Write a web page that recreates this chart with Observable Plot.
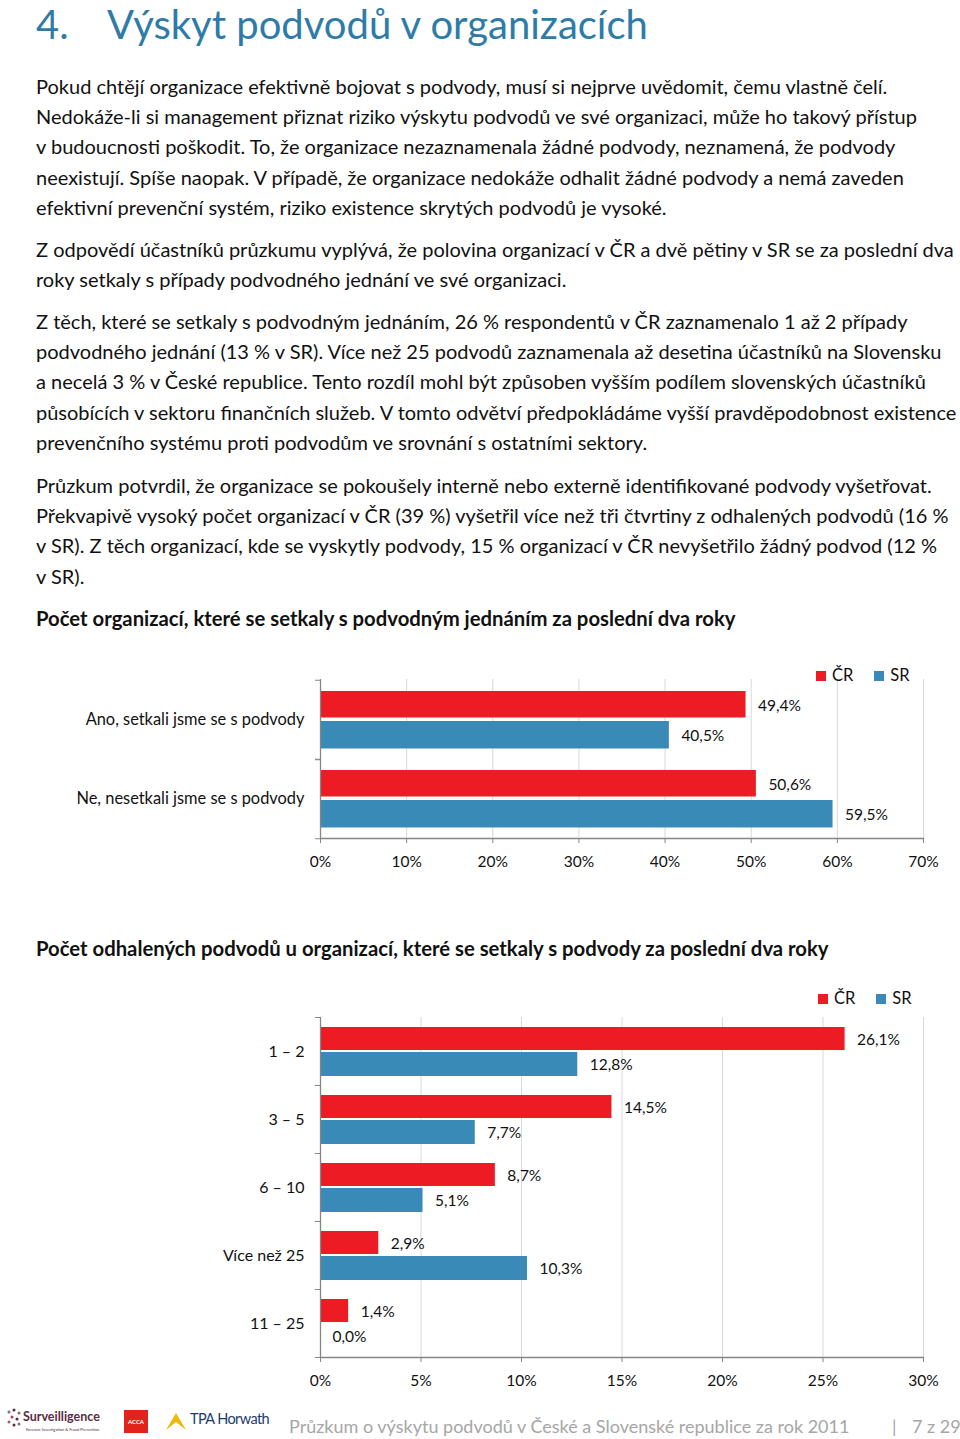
<!DOCTYPE html>
<html lang="cs">
<head>
<meta charset="utf-8">
<script src="https://cdn.jsdelivr.net/npm/d3@7"></script>
<script src="https://cdn.jsdelivr.net/npm/@observablehq/plot@0.6"></script>
<style>
  html, body { margin: 0; padding: 0; background: #fff; }
  body { width: 960px; height: 1439px; position: relative; overflow: hidden; font-family: Lato, "Open Sans", sans-serif; color: #111; }
  .abs { position: absolute; }
  h1 { position: absolute; left: 36px; top: 0px; margin: 0; font-weight: 400; font-size: 40px; line-height: 48px; color: #2E7BA8; white-space: nowrap; }
  h1 .num { display: inline-block; width: 71px; }
  .para { position: absolute; left: 36px; font-size: 20px; line-height: 30.2px; }
  .para div { white-space: nowrap; }
  .ctitle { position: absolute; left: 36px; font-size: 20.3px; font-weight: 700; white-space: nowrap; line-height: 30px; }
  .legend { position: absolute; font-size: 16.5px; white-space: nowrap; line-height: 20px; }
  .legend span.sw { display: inline-block; width: 10px; height: 10px; margin-right: 6px; vertical-align: 0px; }
  .legend span.item { margin-right: 21px; }
  .footer { position: absolute; top: 1412px; font-size: 18px; color: #A6A6A6; white-space: nowrap; line-height: 28px; }
</style>
</head>
<body>
<h1><span class="num">4.</span>Výskyt podvodů v organizacích</h1>

<div class="para" style="top:71px">
  <div>Pokud chtějí organizace efektivně bojovat s podvody, musí si nejprve uvědomit, čemu vlastně čelí.</div>
  <div>Nedokáže-li si management přiznat riziko výskytu podvodů ve své organizaci, může ho takový přístup</div>
  <div>v budoucnosti poškodit. To, že organizace nezaznamenala žádné podvody, neznamená, že podvody</div>
  <div>neexistují. Spíše naopak. V případě, že organizace nedokáže odhalit žádné podvody a nemá zaveden</div>
  <div>efektivní prevenční systém, riziko existence skrytých podvodů je vysoké.</div>
</div>
<div class="para" style="top:234px">
  <div>Z odpovědí účastníků průzkumu vyplývá, že polovina organizací v ČR a dvě pětiny v SR se za poslední dva</div>
  <div>roky setkaly s případy podvodného jednání ve své organizaci.</div>
</div>
<div class="para" style="top:306px">
  <div>Z těch, které se setkaly s podvodným jednáním, 26 % respondentů v ČR zaznamenalo 1 až 2 případy</div>
  <div>podvodného jednání (13 % v SR). Více než 25 podvodů zaznamenala až desetina účastníků na Slovensku</div>
  <div>a necelá 3 % v České republice. Tento rozdíl mohl být způsoben vyšším podílem slovenských účastníků</div>
  <div>působících v sektoru finančních služeb. V tomto odvětví předpokládáme vyšší pravděpodobnost existence</div>
  <div>prevenčního systému proti podvodům ve srovnání s ostatními sektory.</div>
</div>
<div class="para" style="top:470px">
  <div>Průzkum potvrdil, že organizace se pokoušely interně nebo externě identifikované podvody vyšetřovat.</div>
  <div>Překvapivě vysoký počet organizací v ČR (39 %) vyšetřil více než tři čtvrtiny z odhalených podvodů (16 %</div>
  <div>v SR). Z těch organizací, kde se vyskytly podvody, 15 % organizací v ČR nevyšetřilo žádný podvod (12 %</div>
  <div>v SR).</div>
</div>

<div class="ctitle" style="top:603px">Počet organizací, které se setkaly s podvodným jednáním za poslední dva roky</div>
<div id="chart1" class="abs" style="left:0; top:640px;"></div>
<div id="legend1" class="legend" style="left:816px; top:665px;"></div>

<div class="ctitle" style="top:933px">Počet odhalených podvodů u organizací, které se setkaly s podvody za poslední dva roky</div>
<div id="chart2" class="abs" style="left:0; top:980px;"></div>
<div id="legend2" class="legend" style="left:818px; top:988px;"></div>

<!-- footer logos -->
<div class="abs" style="left:6px; top:1408px; width:110px; height:28px;">
  <svg width="16" height="22" style="position:absolute;left:0;top:0">
    <circle cx="3" cy="4" r="1.5" fill="#8a6a7a"/><circle cx="8" cy="2" r="1.5" fill="#5b2b44"/><circle cx="13" cy="5" r="1.5" fill="#8a6a7a"/>
    <circle cx="6" cy="9" r="1.5" fill="#b04050"/><circle cx="11" cy="11" r="1.5" fill="#5b2b44"/><circle cx="3" cy="14" r="1.5" fill="#8a6a7a"/>
    <circle cx="8" cy="17" r="1.5" fill="#5b2b44"/><circle cx="13" cy="16" r="1.5" fill="#8a6a7a"/>
  </svg>
  <div style="position:absolute;left:17px;top:1px;font-size:12.5px;font-weight:700;color:#5b2b44;white-space:nowrap;">Surveilligence</div>
  <div style="position:absolute;left:20px;top:19px;font-size:4px;color:#5b2b44;white-space:nowrap;">Forensic Investigation &amp; Fraud Prevention</div>
</div>
<div class="abs" style="left:124px; top:1410px; width:24px; height:23px; background:#E2231A; color:#fff; font-size:6px; font-weight:700; line-height:23px; text-align:center;">ACCA</div>
<svg class="abs" style="left:164px; top:1411px;" width="24" height="20">
  <path d="M2 19 L12 2 L22 19 L12 11 Z" fill="#F2B705"/>
</svg>
<div class="abs" style="left:190px; top:1410px; font-size:14.5px; color:#1B3C6B; letter-spacing:-0.6px; white-space:nowrap;">TPA Horwath</div>

<div class="footer" style="left:289px;">Průzkum o výskytu podvodů v České a Slovenské republice za rok 2011</div>
<div class="footer" style="left:892px;">|</div>
<div class="footer" style="left:912px;">7 z 29</div>

<script>
// ---------- data ----------
const series = ["ČR", "SR"];
const seriesColors = ["#ED1C24", "#3A8AB8"];

const chart1Categories = ["Ano, setkali jsme se s podvody", "Ne, nesetkali jsme se s podvody"];
const chart1CR = [49.4, 50.6];
const chart1SR = [40.5, 59.5];
const chart1Ticks = [0, 10, 20, 30, 40, 50, 60, 70];

const chart2Categories = ["1 – 2", "3 – 5", "6 – 10", "Více než 25", "11 – 25"];
const chart2CR = [26.1, 14.5, 8.7, 2.9, 1.4];
const chart2SR = [12.8, 7.7, 5.1, 10.3, 0.0];
const chart2Ticks = [0, 5, 10, 15, 20, 25, 30];

// ---------- helpers ----------
const fmt = v => v.toFixed(1).replace(".", ",") + "%";
const axisColor = "#868686";
const gridColor = "#D9D9D9";

function buildRows(cats, cr, sr) {
  const rows = [];
  cats.forEach((c, i) => {
    rows.push({cat: c, series: series[0], value: cr[i]});
    rows.push({cat: c, series: series[1], value: sr[i]});
  });
  return rows;
}

function makeChart({cats, cr, sr, ticks, marginTop, frameHeight, marginBottom, crInset, srInset, crDy, srDy, catFontSize}) {
  const rows = buildRows(cats, cr, sr);
  const band = frameHeight / cats.length;
  const height = marginTop + frameHeight + marginBottom;
  const crRows = rows.filter(d => d.series === series[0]);
  const srRows = rows.filter(d => d.series === series[1]);
  return Plot.plot({
    width: 960,
    height,
    marginLeft: 320,
    marginRight: 37,
    marginTop,
    marginBottom,
    style: {fontFamily: "Lato, sans-serif", fontSize: "15.5px", color: "#111", background: "transparent"},
    x: {domain: [ticks[0], ticks[ticks.length - 1]], label: null},
    y: {domain: cats, padding: 0, label: null},
    color: {domain: series, range: seriesColors},
    marks: [
      Plot.ruleX(ticks.filter(t => t > 0), {stroke: gridColor, strokeWidth: 1}),
      Plot.barX(crRows, {x: "value", y: "cat", fill: "series", insetTop: crInset[0], insetBottom: crInset[1]}),
      Plot.barX(srRows, {x: "value", y: "cat", fill: "series", insetTop: srInset[0], insetBottom: srInset[1]}),
      Plot.ruleX([0], {stroke: axisColor, strokeWidth: 1.3}),
      Plot.frame({anchor: "bottom", stroke: axisColor, strokeWidth: 1.3}),
      Plot.axisX(ticks, {tickSize: 5, tickPadding: 12, stroke: axisColor, tickFormat: d => d + "%", fill: "#111", label: null}),
      Plot.axisY({tickSize: 0, tickPadding: 16, fill: "#111", fontSize: catFontSize, label: null}),
      Plot.axisY({tickSize: 5, tickFormat: () => "", stroke: axisColor, dy: -band / 2, label: null}),
      Plot.axisY({tickSize: 5, tickFormat: () => "", stroke: axisColor, dy: band / 2, label: null}),
      Plot.text(crRows, {x: "value", y: "cat", text: d => fmt(d.value), textAnchor: "start", dx: 12, dy: crDy, fill: "#111"}),
      Plot.text(srRows, {x: "value", y: "cat", text: d => fmt(d.value), textAnchor: "start", dx: 12, dy: srDy, fill: "#111"})
    ]
  });
}

function makeLegend(el) {
  series.forEach((s, i) => {
    const item = document.createElement("span");
    item.className = "item";
    const sw = document.createElement("span");
    sw.className = "sw";
    sw.style.background = seriesColors[i];
    item.appendChild(sw);
    item.appendChild(document.createTextNode(s));
    el.appendChild(item);
  });
}

document.getElementById("chart1").appendChild(makeChart({
  cats: chart1Categories, cr: chart1CR, sr: chart1SR, ticks: chart1Ticks,
  marginTop: 39, frameHeight: 159, marginBottom: 40,
  crInset: [11, 41.5], srInset: [41, 10.5], crDy: -14, srDy: 16, catFontSize: 16.4
}));
document.getElementById("chart2").appendChild(makeChart({
  cats: chart2Categories, cr: chart2CR, sr: chart2SR, ticks: chart2Ticks,
  marginTop: 37, frameHeight: 340, marginBottom: 43,
  crInset: [10, 35], srInset: [35, 9], crDy: -11, srDy: 14, catFontSize: 16
}));
makeLegend(document.getElementById("legend1"));
makeLegend(document.getElementById("legend2"));
</script>
</body>
</html>
